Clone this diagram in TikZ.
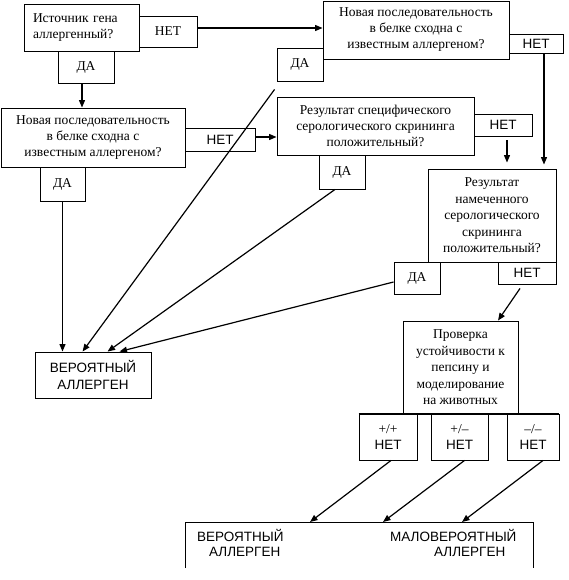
\documentclass[tikz,border=0pt]{standalone}
\usepackage{fontspec}
\setmainfont{Liberation Serif}
\setsansfont{Liberation Sans}
\usetikzlibrary{arrows.meta,calc}
\begin{document}
\begin{tikzpicture}[x=1pt,y=1pt,
  box/.style={draw,line width=0.9pt,inner sep=0pt,align=center,font=\fontsize{13.5}{16}\selectfont},
  sbox/.style={box,font=\sffamily\fontsize{13.5}{16}\selectfont},
  stxt/.style={inner sep=0pt,align=left,anchor=west,font=\sffamily\fontsize{13.5}{14.5}\selectfont},
  arr/.style={line width=1.2pt,-{Triangle[length=7.5pt,width=6pt]}},
  ln/.style={line width=1.2pt}]
\useasboundingbox (0,0) rectangle (568,-580);
% question boxes
\node[box,text width=97pt,align=left,inner xsep=9pt,minimum height=47pt] (q1) at (81.5,-27.5) {Источник гена\\аллергенный?};
\node[box,minimum width=186pt,minimum height=58pt] (q2) at (416,-30) {Новая последовательность\\в белке сходна с\\известным аллергеном?};
\node[box,minimum width=184pt,minimum height=59pt] (q3) at (93,-137.5) {Новая последовательность\\в белке сходна с\\известным аллергеном?};
\node[box,minimum width=197pt,minimum height=58pt] (q4) at (375.5,-126) {Результат специфического\\серологического скрининга\\положительный?};
\node[box,minimum width=128pt,minimum height=93pt,font=\fontsize{13.5}{16.5}\selectfont] (q5) at (492,-215.5) {Результат\\намеченного\\серологического\\скрининга\\положительный?};
\node[box,minimum width=115pt,minimum height=93pt,font=\fontsize{13.5}{16.5}\selectfont] (q6) at (460.5,-367.5) {Проверка\\устойчивости к\\пепсину и\\моделирование\\на животных};
\node[sbox,minimum width=116pt,minimum height=46pt,font=\sffamily\fontsize{13.5}{17}\selectfont] (va) at (93,-375) {ВЕРОЯТНЫЙ\\АЛЛЕРГЕН};
% answer boxes
\node[box,minimum width=58pt,minimum height=31pt] (n1) at (168,-31.5) {НЕТ};
\node[box,minimum width=56pt,minimum height=32pt] (d1) at (86,-67) {ДА};
\node[sbox,minimum width=54pt,minimum height=19pt] (n2) at (536,-43.5) {НЕТ};
\node[box,minimum width=46pt,minimum height=33pt] (d2) at (300,-64.5) {ДА};
\node[sbox,minimum width=70pt,minimum height=23pt] (n3) at (220,-139.5) {НЕТ};
\node[box,minimum width=45pt,minimum height=34pt] (d3) at (62.5,-184) {ДА};
\node[sbox,minimum width=58pt,minimum height=22pt] (n4) at (503,-125) {НЕТ};
\node[box,minimum width=46pt,minimum height=34pt] (d4) at (342,-172) {ДА};
\node[box,minimum width=46pt,minimum height=32pt] (d5) at (417,-278) {ДА};
\node[sbox,minimum width=58pt,minimum height=22pt] (n5) at (527,-273) {НЕТ};
\node[box,minimum width=58pt,minimum height=46pt] (r1) at (388,-437) {+/+\\\sffamily НЕТ};
\node[box,minimum width=57pt,minimum height=46pt] (r2) at (459.5,-437) {+/–\\\sffamily НЕТ};
\node[box,minimum width=52pt,minimum height=46pt] (r3) at (533,-437) {–/–\\\sffamily НЕТ};
\draw[line width=0.9pt] (r1.north west) -- (r3.north east);
% bottom open box
\coordinate (bl) at (185,-568);
\coordinate (br) at (533,-568);
\draw[line width=0.9pt] (bl) -- (185,-522) coordinate (btl) -- (533,-522) coordinate (btr) -- (br);
\node[stxt] (t1) at (197,-543) {ВЕРОЯТНЫЙ\\\hspace*{12pt}АЛЛЕРГЕН};
\node[stxt] (t2) at (390,-543) {МАЛОВЕРОЯТНЫЙ\\\hspace*{44pt}АЛЛЕРГЕН};
\coordinate (b1) at (310,-522);
\coordinate (b2) at (383,-522);
\coordinate (b3) at (462,-522);
% connectors
\coordinate (a1) at ([yshift=3.5pt]n1.east);
\draw[arr] (a1) -- (a1 -| q2.west);
\coordinate (a2) at ([xshift=-4pt]d1.south);
\draw[arr] (a2) -- (a2 |- q3.north);
\coordinate (a3) at ([yshift=2.5pt]n3.east);
\draw[arr] (a3) -- (a3 -| q4.west);
\coordinate (a4) at ([xshift=8pt]n2.south);
\draw[arr] (a4) -- ($(a4 |- q5.north)+(0,4)$);
\coordinate (a5) at ([xshift=4pt,yshift=-4pt]n4.south);
\draw[arr] (a5) -- ($(a5 |- q5.north)+(0,6)$);
\draw[arr] ([xshift=-7pt,yshift=-4pt]n5.south) -- ([xshift=37.5pt]q6.north);
% to probable allergen
\draw[arr] (d3.south) -- (d3.south |- va.north);
\draw[arr] ([xshift=-2pt,yshift=-8pt]d2.south west) -- ([xshift=48pt]va.north west);
\draw[arr] ([xshift=-7pt]d4.south) -- ([xshift=73pt]va.north west);
\draw[arr] ([yshift=-4pt]d5.west) -- ([xshift=85pt]va.north west);
% to final box
\draw[arr] ([xshift=3pt]r1.south) -- (b1);
\draw[arr] ([xshift=5pt]r2.south) -- (b2);
\draw[arr] ([xshift=10pt]r3.south) -- (b3);
\end{tikzpicture}
\end{document}
